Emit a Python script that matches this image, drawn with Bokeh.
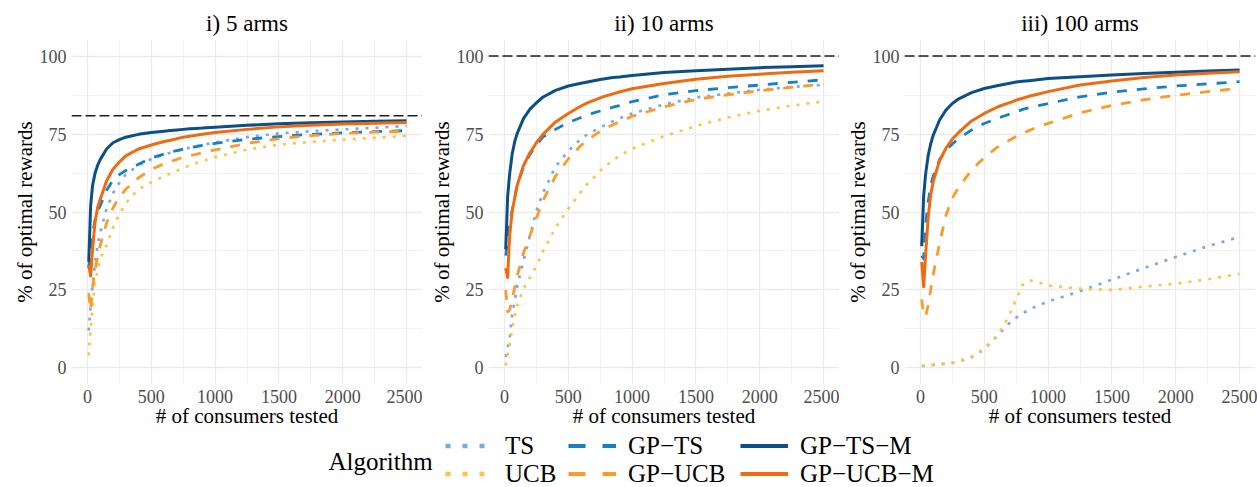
from bokeh.plotting import figure
from bokeh.layouts import column, row
from bokeh.models import Range1d, SingleIntervalTicker, Span, Legend, LegendItem, Label
from bokeh.embed import file_html
from bokeh.resources import INLINE

FONT = "Liberation Serif"

# ---------------- data ----------------
consumers = [10, 25, 40, 60, 80, 100, 150, 200, 250, 300, 400, 500, 600, 650,
             700, 750, 800, 850, 900, 1000, 1250, 1500, 1750, 2000, 2250, 2500]

panel_titles = ["i) 5 arms", "ii) 10 arms", "iii) 100 arms"]
optimal_level = [80.9, 100, 100]
algorithms = ["TS", "UCB", "GP\u2212TS", "GP\u2212UCB", "GP\u2212TS\u2212M", "GP\u2212UCB\u2212M"]
x_ticks = [0, 500, 1000, 1500, 2000, 2500]
y_ticks = [0, 25, 50, 75, 100]

# i) 5 arms
ts_5 = [12, 20, 26.5, 34, 39.5, 43.5, 51, 56, 59.4, 62, 65, 67, 68.4, 69, 69.6, 70.1, 70.6, 71, 71.5, 72.3, 74, 75.2, 75.9, 76.5, 77, 77.6]
ucb_5 = [4, 12.5, 20, 27.4, 31.5, 34.9, 39.5, 45, 49.3, 52.8, 57.3, 59.5, 61.5, 62.4, 63.2, 64.1, 64.9, 65.6, 66.3, 67.6, 70, 71.6, 72.5, 73.2, 73.8, 74.4]
gpts_5 = [32, 38, 43, 47.5, 50.5, 52, 57, 60.2, 62, 63.3, 65.3, 67.3, 68.6, 69.2, 69.7, 70.2, 70.6, 71, 71.4, 72, 73.3, 74.2, 74.9, 75.4, 75.8, 76.1]
gpucb_5 = [24, 18.5, 26, 31.5, 35.8, 39.3, 46.5, 51.3, 54.8, 57.3, 61, 63.6, 65.5, 66.2, 66.9, 67.6, 68.1, 68.5, 69, 69.9, 72, 73.5, 74.5, 75.2, 75.6, 75.9]
gptsm_5 = [34, 52, 58.5, 62.5, 65, 66.8, 70.2, 72.2, 73.2, 74, 74.9, 75.5, 75.9, 76.1, 76.3, 76.5, 76.7, 76.8, 76.9, 77.2, 77.8, 78.3, 78.6, 78.9, 79.1, 79.3]
gpucbm_5 = [33, 29.5, 38, 47, 51.5, 54, 60, 63.7, 66, 68, 70.2, 71.5, 72.6, 73, 73.5, 74, 74.3, 74.6, 74.9, 75.5, 76.5, 77.3, 77.8, 78.2, 78.5, 78.7]

# ii) 10 arms
ts_10 = [3.5, 6.5, 9.3, 17, 21.5, 26.3, 34.5, 42.5, 50.3, 56, 64.5, 69.5, 73.5, 74.9, 76, 77.1, 78.1, 79.1, 80, 81.6, 84.5, 86.7, 88, 89.2, 90.1, 90.8]
ucb_10 = [0.8, 4, 7.5, 12.5, 16.5, 20, 25.5, 29, 32.6, 37.2, 45, 51, 56.5, 59, 61, 63.2, 65, 66.6, 68, 70.3, 74.3, 77.6, 80.3, 82.5, 84.1, 85.5]
gpts_10 = [36, 41, 46, 50.5, 54.5, 58.8, 64.5, 68.5, 71.5, 74, 76.5, 78.7, 80.3, 81.1, 81.8, 82.4, 83, 83.6, 84.1, 85.4, 87.6, 88.9, 89.9, 90.7, 91.6, 92.4]
gpucb_10 = [25, 18, 18.5, 21.8, 25.8, 29.5, 37, 42.5, 48, 53.5, 61.5, 67, 71.4, 73, 74.5, 75.9, 77, 78, 78.9, 80.7, 83.7, 86.1, 87.6, 88.9, 90, 91]
gptsm_10 = [38, 55, 62, 68.5, 72.5, 75.2, 80, 83, 85, 86.8, 89, 90.4, 91.3, 91.7, 92.1, 92.5, 92.8, 93.1, 93.3, 93.8, 94.7, 95.3, 95.8, 96.3, 96.6, 96.9]
gpucbm_10 = [32, 29, 42, 50, 54.5, 58.6, 65, 69, 72.2, 74.8, 78.9, 81.6, 84, 85, 85.8, 86.6, 87.3, 87.9, 88.5, 89.5, 91.2, 92.6, 93.5, 94.2, 94.8, 95.3]

# iii) 100 arms
ts_100 = [0.7, 0.7, 0.8, 0.9, 1, 1, 1.2, 1.4, 1.6, 2, 3.4, 6, 10.2, 12.4, 14.5, 16.1, 17.5, 18.6, 19.6, 21.3, 24.6, 28.3, 32, 35.6, 39, 42]
ucb_100 = [0.5, 0.5, 0.6, 0.7, 0.8, 0.9, 1.1, 1.3, 1.6, 2.3, 3.5, 6.2, 10.3, 13.4, 17.3, 22, 26.6, 28.1, 27.7, 26.4, 25.4, 25, 26.1, 27, 28.4, 30.2]
gpts_100 = [36, 35, 46, 53, 58.5, 61.5, 66.8, 69.8, 71.8, 73.6, 76.3, 78.4, 80, 80.7, 81.4, 82.1, 82.9, 83.4, 83.9, 84.8, 86.9, 88.4, 89.5, 90.4, 91.1, 91.8]
gpucb_100 = [22, 17, 16.5, 20, 25, 30, 40, 49, 54.5, 58, 63.4, 67.5, 70.7, 71.9, 73.1, 74.2, 75.2, 76.1, 77, 78.4, 81.8, 84.2, 86, 87.4, 88.6, 89.7]
gptsm_100 = [39, 55, 62, 68, 71.8, 74.6, 79.5, 82.7, 84.8, 86.3, 88.3, 89.6, 90.5, 90.9, 91.3, 91.7, 91.9, 92.1, 92.3, 92.8, 93.4, 93.9, 94.4, 94.8, 95.2, 95.5]
gpucbm_100 = [34, 26, 36, 48, 55.5, 59.8, 66.5, 70.5, 73.4, 75.5, 79.2, 81.6, 83.6, 84.4, 85.1, 85.9, 86.5, 87.1, 87.6, 88.6, 90.7, 92, 93.1, 93.9, 94.5, 95]

panels = [
    [ts_5, ucb_5, gpts_5, gpucb_5, gptsm_5, gpucbm_5],
    [ts_10, ucb_10, gpts_10, gpucb_10, gptsm_10, gpucbm_10],
    [ts_100, ucb_100, gpts_100, gpucb_100, gptsm_100, gpucbm_100],
]

# ---------------- styles ----------------
colors = ["#7AAAE2", "#FFC24A", "#1580C6", "#FD9A2C", "#0C4F87", "#EE6B12"]
kinds = ["dot", "dot", "dash", "dash", "solid", "solid"]
plot_dash = {"dot": "3 7", "dash": "10 10", "solid": "solid"}
plot_width = {"dot": 2.7, "dash": 2.8, "solid": 3.0}
key_dash = {"dot": "5 12", "dash": "17 17", "solid": "solid"}
key_width = {"dot": 4.5, "dash": 4.2, "solid": 4.2}

FRAME_W, FRAME_H = 351, 343
TOP, BOTTOM = 40, 46
lefts = [71, 66, 65]
rights = [0, 0, 2]

figs = []
for i in range(3):
    p = figure(frame_width=FRAME_W, frame_height=FRAME_H,
               x_range=Range1d(-125, 2625), y_range=Range1d(-5, 105),
               output_backend="svg", toolbar_location=None,
               min_border_left=lefts[i], min_border_right=rights[i],
               min_border_top=TOP, min_border_bottom=BOTTOM,
               title=panel_titles[i])
    p.outline_line_color = None
    p.background_fill_color = "white"
    p.border_fill_color = "white"
    p.title.text_font = FONT
    p.title.text_font_size = "23px"
    p.title.text_font_style = "normal"
    p.title.text_color = "black"
    p.title.align = "center"
    p.title.standoff = 9

    p.xaxis.ticker = SingleIntervalTicker(interval=500, num_minor_ticks=2)
    p.yaxis.ticker = SingleIntervalTicker(interval=25, num_minor_ticks=2)
    for ax in (p.xaxis[0], p.yaxis[0]):
        ax.axis_line_color = None
        ax.major_tick_line_color = None
        ax.minor_tick_line_color = None
        ax.major_tick_out = 0
        ax.major_tick_in = 0
        ax.minor_tick_out = 0
        ax.minor_tick_in = 0
        ax.major_label_text_font = FONT
        ax.major_label_text_font_size = "18px"
        ax.major_label_text_color = "#4D4D4D"
        ax.axis_label_text_font = FONT
        ax.axis_label_text_font_size = "21px"
        ax.axis_label_text_font_style = "normal"
        ax.axis_label_text_color = "black"
    p.xaxis.axis_label = "# of consumers tested"
    p.yaxis.axis_label = "% of optimal rewards"
    p.xaxis.major_label_standoff = 6
    p.xaxis.axis_label_standoff = -2
    p.yaxis.major_label_standoff = 5
    p.yaxis.axis_label_standoff = 0

    for g in (p.xgrid[0], p.ygrid[0]):
        g.grid_line_color = "#EBEBEB"
        g.grid_line_width = 1.3
        g.minor_grid_line_color = "#EFEFEF"
        g.minor_grid_line_width = 0.8

    for k in range(6):
        kind = kinds[k]
        p.line(x=consumers, y=panels[i][k], line_color=colors[k],
               line_width=plot_width[kind], line_dash=plot_dash[kind],
               line_cap="butt", line_join="round")

    p.add_layout(Span(location=optimal_level[i], dimension="width",
                      line_color="#1E1E1E", line_width=1.5, line_dash="10 4"))
    figs.append(p)

# ---------------- legend strip ----------------
LEG_H = 58
leg = figure(width=1257, height=LEG_H, x_range=Range1d(0, 1257), y_range=Range1d(0, LEG_H),
             output_backend="svg", toolbar_location=None, min_border=0,
             x_axis_type=None, y_axis_type=None)
leg.outline_line_color = None
leg.xgrid.visible = False
leg.ygrid.visible = False

# key-only renderers (their data lies outside the visible strip; they only feed the legend)
key_renderers = []
for k in range(6):
    kind = kinds[k]
    r = leg.line(x=[-100, -90], y=[-100, -100], line_color=colors[k], line_width=key_width[kind],
                 line_dash=key_dash[kind], line_cap="butt")
    key_renderers.append(r)

col_x = [445, 568, 740]
for c in range(3):
    items = [LegendItem(label=algorithms[2 * c], renderers=[key_renderers[2 * c]]),
             LegendItem(label=algorithms[2 * c + 1], renderers=[key_renderers[2 * c + 1]])]
    lg = Legend(items=items, location=(col_x[c], 0.5), orientation="vertical",
                glyph_width=48, glyph_height=27, label_height=27, label_standoff=12,
                spacing=0, padding=0, margin=0, border_line_color=None,
                background_fill_alpha=0, label_text_font=FONT,
                label_text_font_size="25px", label_text_color="black")
    leg.add_layout(lg)

leg.add_layout(Label(x=328, y=27.5, text="Algorithm", text_font=FONT, text_font_size="25px",
                     text_baseline="middle", text_align="left", text_color="black"))

layout = column(row(*figs, spacing=0), leg, spacing=0)

with open("out.html", "w") as f:
    f.write(file_html(layout, INLINE))
